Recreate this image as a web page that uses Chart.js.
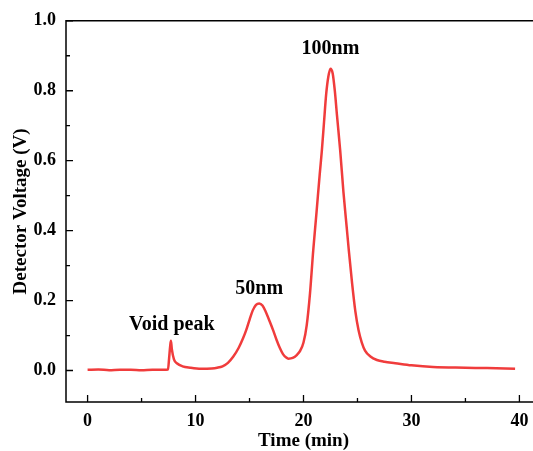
<!DOCTYPE html>
<html>
<head>
<meta charset="utf-8">
<script src="https://cdn.jsdelivr.net/npm/chart.js@4.4.1/dist/chart.umd.min.js"></script>
<style>
  html, body { margin: 0; padding: 0; background: #fff; overflow: hidden; }
  #wrap { width: 541px; height: 451px; }
</style>
</head>
<body>
<div id="wrap"><canvas id="chart" width="541" height="451"></canvas></div>
<script>
// chromatogram: time (min) and detector voltage (V)
const timeMin = [
  0, 1, 2, 3, 4, 5, 6, 7, 7.45,
  7.55, 7.65, 7.72, 7.8, 8.0, 8.3, 8.8, 9.5, 10.5, 11.5,
  12.0, 12.5, 13.0, 13.5, 14.0, 14.4, 14.7, 15.0, 15.3, 15.6, 15.9,
  16.2, 16.5, 16.9, 17.2, 17.5, 17.8, 18.1, 18.4, 18.6,
  19.0, 19.4, 19.7, 20.0, 20.3, 20.6, 20.9, 21.2, 21.5, 21.7, 21.9, 22.1, 22.3, 22.5,
  22.7, 22.9, 23.1, 23.4, 23.7, 24.0, 24.2, 24.5, 24.8, 25.1, 25.4, 25.7,
  26.2, 26.8, 27.5, 28.5, 30, 32, 35, 37, 39.6
]
const voltage = [
  0.002, 0.003, 0.001, 0.002, 0.002, 0.001, 0.002, 0.002, 0.003,
  0.035, 0.07, 0.085, 0.062, 0.032, 0.02, 0.012, 0.008, 0.005, 0.006,
  0.008, 0.012, 0.022, 0.04, 0.065, 0.092, 0.116, 0.145, 0.172, 0.188, 0.192,
  0.186, 0.168, 0.138, 0.114, 0.088, 0.065, 0.047, 0.037, 0.034,
  0.036, 0.045, 0.057, 0.08, 0.13, 0.22, 0.343, 0.45, 0.56, 0.629, 0.71, 0.79, 0.84, 0.863,
  0.85, 0.8, 0.73, 0.629, 0.51, 0.41, 0.343, 0.25, 0.17, 0.115, 0.08, 0.057,
  0.04, 0.03, 0.025, 0.021, 0.015, 0.01, 0.008, 0.007, 0.005
]

const peakLabels = ['Void peak', '50nm', '100nm']
const labelX = [7.8, 15.9, 22.5]
const labelY = [0.13, 0.235, 0.92]

const xMajor = [0, 10, 20, 30, 40]
const xMinor = [5, 15, 25, 35]
const yMajor = [0, 0.2, 0.4, 0.6, 0.8, 1.0]
const yMinor = [0.1, 0.3, 0.5, 0.7, 0.9]

const serif = '"Liberation Serif", "Times New Roman", serif'

const framePlugin = {
  id: 'frame',
  afterDraw(chart) {
    const { ctx, chartArea: a, scales: { x, y } } = chart
    ctx.save()
    ctx.strokeStyle = '#000'
    ctx.lineWidth = 1.5
    ctx.beginPath()
    ctx.moveTo(a.right, a.top)
    ctx.lineTo(a.left, a.top)
    ctx.lineTo(a.left, a.bottom)
    ctx.lineTo(a.right, a.bottom)
    ctx.stroke()

    // inward ticks
    ctx.lineWidth = 1.3
    ctx.beginPath()
    xMajor.forEach(v => { const px = x.getPixelForValue(v); ctx.moveTo(px, a.bottom); ctx.lineTo(px, a.bottom - 7) })
    xMinor.forEach(v => { const px = x.getPixelForValue(v); ctx.moveTo(px, a.bottom); ctx.lineTo(px, a.bottom - 4) })
    yMajor.forEach(v => { const py = y.getPixelForValue(v); ctx.moveTo(a.left, py); ctx.lineTo(a.left + 7, py) })
    yMinor.forEach(v => { const py = y.getPixelForValue(v); ctx.moveTo(a.left, py); ctx.lineTo(a.left + 4, py) })
    ctx.stroke()

    // peak annotations
    ctx.fillStyle = '#000'
    ctx.font = 'bold 20px ' + serif
    ctx.textAlign = 'center'
    ctx.textBaseline = 'middle'
    peakLabels.forEach((t, i) => {
      ctx.fillText(t, x.getPixelForValue(labelX[i]), y.getPixelForValue(labelY[i]))
    })
    ctx.restore()
  }
}

new Chart(document.getElementById('chart'), {
  type: 'line',
  data: {
    datasets: [{
      data: timeMin.map((t, i) => ({ x: t, y: voltage[i] })),
      borderColor: '#f03c3c',
      borderWidth: 2.5,
      pointRadius: 0,
      cubicInterpolationMode: 'monotone',
      fill: false
    }]
  },
  options: {
    responsive: false,
    animation: false,
    layout: { padding: { top: 20, left: 0, right: 0, bottom: 0 } },
    plugins: { legend: { display: false }, tooltip: { enabled: false } },
    scales: {
      x: {
        type: 'linear',
        min: -2,
        max: 42,
        grid: { display: false, drawTicks: false },
        border: { display: false },
        ticks: {
          stepSize: 10,
          includeBounds: false,
          padding: 9,
          color: '#000',
          font: { family: serif, size: 18, weight: 'bold' },
          maxRotation: 0
        },
        title: {
          display: true,
          text: 'Time (min)',
          color: '#000',
          font: { family: serif, size: 19, weight: 'bold', lineHeight: 1.0 },
          padding: { top: 0, bottom: 0 }
        },
        afterFit(scale) { scale.height = 49 }
      },
      y: {
        min: -0.09,
        max: 1.0,
        grid: { display: false, drawTicks: false },
        border: { display: false },
        ticks: {
          stepSize: 0.2,
          includeBounds: false,
          padding: 10,
          color: '#000',
          font: { family: serif, size: 18, weight: 'bold' },
          callback: v => v.toFixed(1)
        },
        title: {
          display: true,
          text: 'Detector Voltage (V)',
          color: '#000',
          font: { family: serif, size: 19, weight: 'bold', lineHeight: 1.2 },
          padding: { top: 10, bottom: 0 }
        },
        afterFit(scale) { scale.width = 66 }
      }
    }
  },
  plugins: [framePlugin]
})
</script>
</body>
</html>
